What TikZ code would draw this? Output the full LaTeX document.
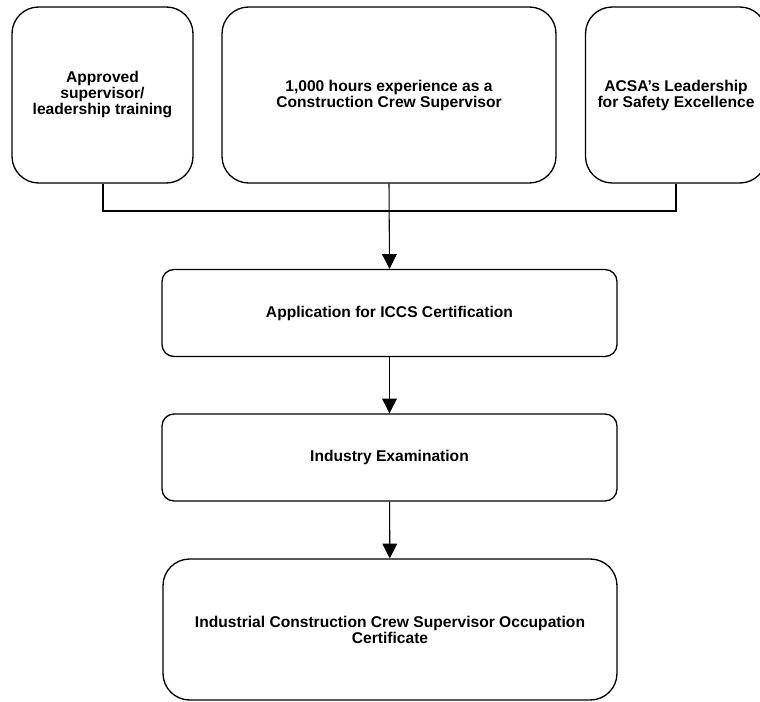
\documentclass[tikz,border=0pt]{standalone}
\usepackage{fontspec}
\setmainfont{Liberation Sans}
\usetikzlibrary{arrows.meta}
\tikzset{
    stage/.style={draw, line width=1pt, rounded corners=9pt, align=center, inner sep=0pt,
        font=\bfseries\fontsize{11.7}{12}\selectfont},
    req/.style={stage, rounded corners=20pt, minimum height=132pt},
    flow/.style={-{Triangle[width=11pt,length=11pt]}, line width=0.8pt}
}
\begin{document}
\begin{tikzpicture}[x=0.75pt,y=-0.75pt]
        \useasboundingbox (0,0) rectangle (760,702);
        \node[req, minimum width=135.75pt] (appr) at (102.5,95) {Approved\\supervisor/\\leadership training};
        \node[req, minimum width=250.5pt] (hours) at (389,95) {1,000 hours experience as a\\Construction Crew Supervisor};
        \node[req, minimum width=135.75pt] (acsa) at (676,95) {ACSA's Leadership\\for Safety Excellence};
        \node[stage, minimum width=341.25pt, minimum height=65.25pt] (appl) at (389.5,313) {Application for ICCS Certification};
        \node[stage, minimum width=341.25pt, minimum height=65.25pt] (exam) at (389.5,457.5) {Industry Examination};
        \node[stage, rounded corners=20pt, minimum width=340.5pt, minimum height=105.75pt] (cert) at (390,629.5)
            {Industrial Construction Crew Supervisor Occupation\\Certificate};
        \draw[line width=1.5pt] (appr.south) -- ++(0,27) -| (acsa.south);
        \draw[flow] (hours.south) -- (appl.north);
        \draw[flow] (appl) -- (exam);
        \draw[flow] (exam) -- (cert);
    \end{tikzpicture}
\end{document}
